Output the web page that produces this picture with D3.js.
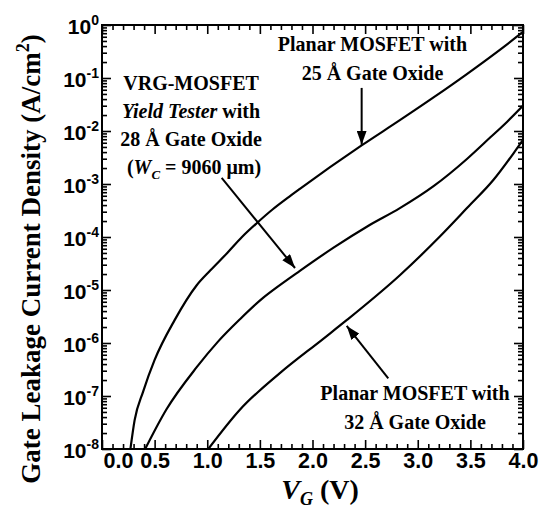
<!DOCTYPE html>
<html>
<head>
<meta charset="utf-8">
<script src="https://cdn.jsdelivr.net/npm/d3@7"></script>
<style>
  html, body { margin: 0; padding: 0; background: #fff; }
  svg { display: block; }
</style>
</head>
<body>
<svg id="chart" width="540" height="510"></svg>
<script>
// Gate voltage (V) and gate leakage current density (A/cm^2) for each device
const vgPlanar25 = [0.27, 0.31, 0.39, 0.50, 0.69, 0.90, 1.03, 1.19, 1.33, 1.47, 1.62, 1.76, 1.88, 2.47, 2.83, 3.15, 3.47, 3.78, 4.00];
const jPlanar25  = [1.0e-8, 3.5e-8, 1.2e-7, 4.8e-7, 2.7e-6, 1.23e-5, 2.35e-5, 5.0e-5, 1.0e-4, 1.82e-4, 3.3e-4, 5.4e-4, 8.1e-4, 5.4e-3, 1.6e-2, 4.3e-2, 0.12, 0.34, 0.74];

const vgVrg28 = [0.41, 0.61, 0.90, 1.10, 1.31, 1.53, 1.66, 1.88, 2.20, 2.52, 2.83, 3.15, 3.47, 3.69, 3.85, 4.00];
const jVrg28  = [1.0e-8, 5.5e-8, 3.5e-7, 1.05e-6, 2.8e-6, 7.1e-6, 1.12e-5, 2.3e-5, 6.3e-5, 1.58e-4, 3.5e-4, 9.1e-4, 3.0e-3, 7.6e-3, 1.5e-2, 3.0e-2];

const vgPlanar32 = [1.01, 1.31, 1.69, 2.09, 2.33, 2.83, 3.21, 3.47, 3.72, 3.91, 4.00];
const jPlanar32  = [1.0e-8, 5.5e-8, 2.7e-7, 1.15e-6, 2.75e-6, 1.9e-5, 1.02e-4, 3.55e-4, 1.2e-3, 3.8e-3, 6.8e-3];

// Axis ticks
const xMajorTicks = [0, 0.5, 1.0, 1.5, 2.0, 2.5, 3.0, 3.5, 4.0];
const xTickLabels = ["0.0", "0.5", "1.0", "1.5", "2.0", "2.5", "3.0", "3.5", "4.0"];
const yDecades = [-8, -7, -6, -5, -4, -3, -2, -1, 0];

// Annotation text and arrows, placed in data coordinates [V, J]
const labelPlanar25 = ["Planar MOSFET with", "25 Å Gate Oxide"];
const labelPlanar32 = ["Planar MOSFET with", "32 Å Gate Oxide"];
const arrowPlanar25 = [[2.467, 6.5e-2], [2.467, 5.5e-3]];
const arrowVrg28    = [[1.137, 1.3e-3], [1.834, 2.6e-5]];
const arrowPlanar32 = [[2.72, 2.15e-7], [2.325, 2.1e-6]];

const svg = d3.select("#chart");
const plotLeft = 102, plotRight = 523, plotTop = 25, plotBottom = 449;

const x = d3.scaleLinear().domain([0, 4]).range([plotLeft, plotRight]);
const y = d3.scaleLog().domain([1e-8, 1]).range([plotBottom, plotTop]);

const serif = "'Liberation Serif', 'Times New Roman', serif";
const sans = "'Liberation Sans', Arial, Helvetica, sans-serif";

// Minor ticks
const xMinorTicks = d3.range(0, 41).map(i => i / 10).filter(v => Math.abs(v * 2 - Math.round(v * 2)) > 1e-6);
const yMajorVals = yDecades.map(e => Math.pow(10, e));
const yMinorVals = [];
yDecades.slice(0, -1).forEach(e => { for (let m = 2; m <= 9; m++) yMinorVals.push(m * Math.pow(10, e)); });

const major = 9, minor = 5;

function styleAxis(g) {
  g.select(".domain").remove();
  g.selectAll(".tick line").attr("stroke", "#000").attr("stroke-width", 1.6);
}

// Bottom axis with labels; the first label starts at the corner so it clears 10^-8
svg.append("g").attr("transform", `translate(0,${plotBottom})`)
  .call(d3.axisBottom(x).tickValues(xMinorTicks).tickSize(-minor).tickFormat(""))
  .call(styleAxis);
svg.append("g").attr("transform", `translate(0,${plotBottom})`)
  .call(d3.axisBottom(x).tickValues(xMajorTicks).tickSize(-major).tickPadding(4)
    .tickFormat((d, i) => xTickLabels[i]))
  .call(styleAxis)
  .call(g => g.selectAll("text")
    .attr("font-family", sans).attr("font-weight", "bold").attr("font-size", 21.5).attr("fill", "#000"))
  .call(g => g.selectAll(".tick").filter(d => d === 0).select("text")
    .attr("text-anchor", "start").attr("x", 1));

// Top axis, ticks only
svg.append("g").attr("transform", `translate(0,${plotTop})`)
  .call(d3.axisTop(x).tickValues(xMinorTicks).tickSize(-minor).tickFormat(""))
  .call(styleAxis);
svg.append("g").attr("transform", `translate(0,${plotTop})`)
  .call(d3.axisTop(x).tickValues(xMajorTicks).tickSize(-major).tickFormat(""))
  .call(styleAxis);

// Left axis with power-of-ten labels
svg.append("g").attr("transform", `translate(${plotLeft},0)`)
  .call(d3.axisLeft(y).tickValues(yMinorVals).tickSize(-minor).tickFormat(""))
  .call(styleAxis);
const yAxisMajor = svg.append("g").attr("transform", `translate(${plotLeft},0)`)
  .call(d3.axisLeft(y).tickValues(yMajorVals).tickSize(-major).tickPadding(3).tickFormat(""))
  .call(styleAxis);
yAxisMajor.selectAll(".tick").each(function(d) {
  const t = d3.select(this).select("text");
  t.attr("dy", null).attr("y", 8).attr("x", -3)
    .attr("text-anchor", "end")
    .attr("font-family", sans).attr("font-weight", "bold").attr("fill", "#000");
  t.append("tspan").attr("font-size", 21).text("10");
  t.append("tspan").attr("font-size", 14).attr("dy", -9).text(String(Math.round(Math.log10(d))));
});

// Right axis, ticks only
svg.append("g").attr("transform", `translate(${plotRight},0)`)
  .call(d3.axisRight(y).tickValues(yMinorVals).tickSize(-minor).tickFormat(""))
  .call(styleAxis);
svg.append("g").attr("transform", `translate(${plotRight},0)`)
  .call(d3.axisRight(y).tickValues(yMajorVals).tickSize(-major).tickFormat(""))
  .call(styleAxis);

// Frame
svg.append("rect")
  .attr("x", plotLeft).attr("y", plotTop)
  .attr("width", plotRight - plotLeft).attr("height", plotBottom - plotTop)
  .attr("fill", "none").attr("stroke", "#000").attr("stroke-width", 2);

// Curves
const defs = svg.append("defs");
defs.append("clipPath").attr("id", "plot-clip")
  .append("rect").attr("x", plotLeft).attr("y", plotTop)
  .attr("width", plotRight - plotLeft).attr("height", plotBottom - plotTop);

const line = d3.line()
  .x(d => x(d[0]))
  .y(d => y(d[1]))
  .curve(d3.curveMonotoneX);

const series = [
  d3.zip(vgPlanar25, jPlanar25),
  d3.zip(vgVrg28, jVrg28),
  d3.zip(vgPlanar32, jPlanar32)
];

svg.append("g").attr("clip-path", "url(#plot-clip)")
  .selectAll("path")
  .data(series)
  .join("path")
  .attr("d", line)
  .attr("fill", "none")
  .attr("stroke", "#000")
  .attr("stroke-width", 2.2)
  .attr("stroke-linejoin", "round");

// Arrow heads
defs.append("marker")
  .attr("id", "arrowhead")
  .attr("markerUnits", "userSpaceOnUse")
  .attr("viewBox", "0 0 14 10")
  .attr("refX", 14).attr("refY", 5)
  .attr("markerWidth", 14).attr("markerHeight", 10)
  .attr("orient", "auto")
  .append("path").attr("d", "M0,0 L14,5 L0,10 Z").attr("fill", "#000");

svg.append("g").selectAll("line")
  .data([arrowPlanar25, arrowVrg28, arrowPlanar32])
  .join("line")
  .attr("x1", d => x(d[0][0])).attr("y1", d => y(d[0][1]))
  .attr("x2", d => x(d[1][0])).attr("y2", d => y(d[1][1]))
  .attr("stroke", "#000").attr("stroke-width", 2)
  .attr("marker-end", "url(#arrowhead)");

// Annotation text
const notes = svg.append("g")
  .attr("font-family", serif).attr("font-weight", "bold").attr("font-size", 20)
  .attr("text-anchor", "middle").attr("fill", "#000");

function textBlock(lines, vx, jy, spacing) {
  lines.forEach((s, i) => {
    notes.append("text").attr("x", x(vx)).attr("y", y(jy) + i * spacing).text(s);
  });
}
textBlock(labelPlanar25, 2.57, 3.2e-1, 28.5);
textBlock(labelPlanar32, 2.974, 8.3e-8, 28.3);

// VRG-MOSFET label block
const vrgX = x(0.846), vrgY = y(6.0e-2), vrgGap = 28.2;
notes.append("text").attr("x", vrgX).attr("y", vrgY).text("VRG-MOSFET");
const l2 = notes.append("text").attr("x", vrgX).attr("y", vrgY + vrgGap);
l2.append("tspan").attr("font-style", "italic").text("Yield Tester");
l2.append("tspan").text(" with");
notes.append("text").attr("x", vrgX).attr("y", vrgY + 2 * vrgGap).text("28 Å Gate Oxide");
const l4 = notes.append("text").attr("x", vrgX + 3).attr("y", vrgY + 3 * vrgGap);
l4.append("tspan").text("(");
l4.append("tspan").attr("font-style", "italic").text("W");
l4.append("tspan").attr("font-style", "italic").attr("font-size", 13).attr("dy", 5).text("C");
l4.append("tspan").attr("dy", -5).text(" = 9060 μm)");

// Axis titles
const xt = svg.append("text")
  .attr("x", 320).attr("y", 499)
  .attr("text-anchor", "middle")
  .attr("font-family", serif).attr("font-weight", "bold").attr("font-size", 28).attr("fill", "#000");
xt.append("tspan").attr("font-style", "italic").text("V");
xt.append("tspan").attr("font-style", "italic").attr("font-size", 18).attr("dy", 6).text("G");
xt.append("tspan").attr("dy", -6).text(" (V)");

const yt = svg.append("text")
  .attr("transform", "translate(40,259) rotate(-90)")
  .attr("text-anchor", "middle")
  .attr("font-family", serif).attr("font-weight", "bold").attr("font-size", 27).attr("fill", "#000");
yt.append("tspan").text("Gate Leakage Current Density (A/cm");
yt.append("tspan").attr("font-size", 18).attr("dy", -11).text("2");
yt.append("tspan").attr("dy", 11).text(")");
</script>
</body>
</html>
